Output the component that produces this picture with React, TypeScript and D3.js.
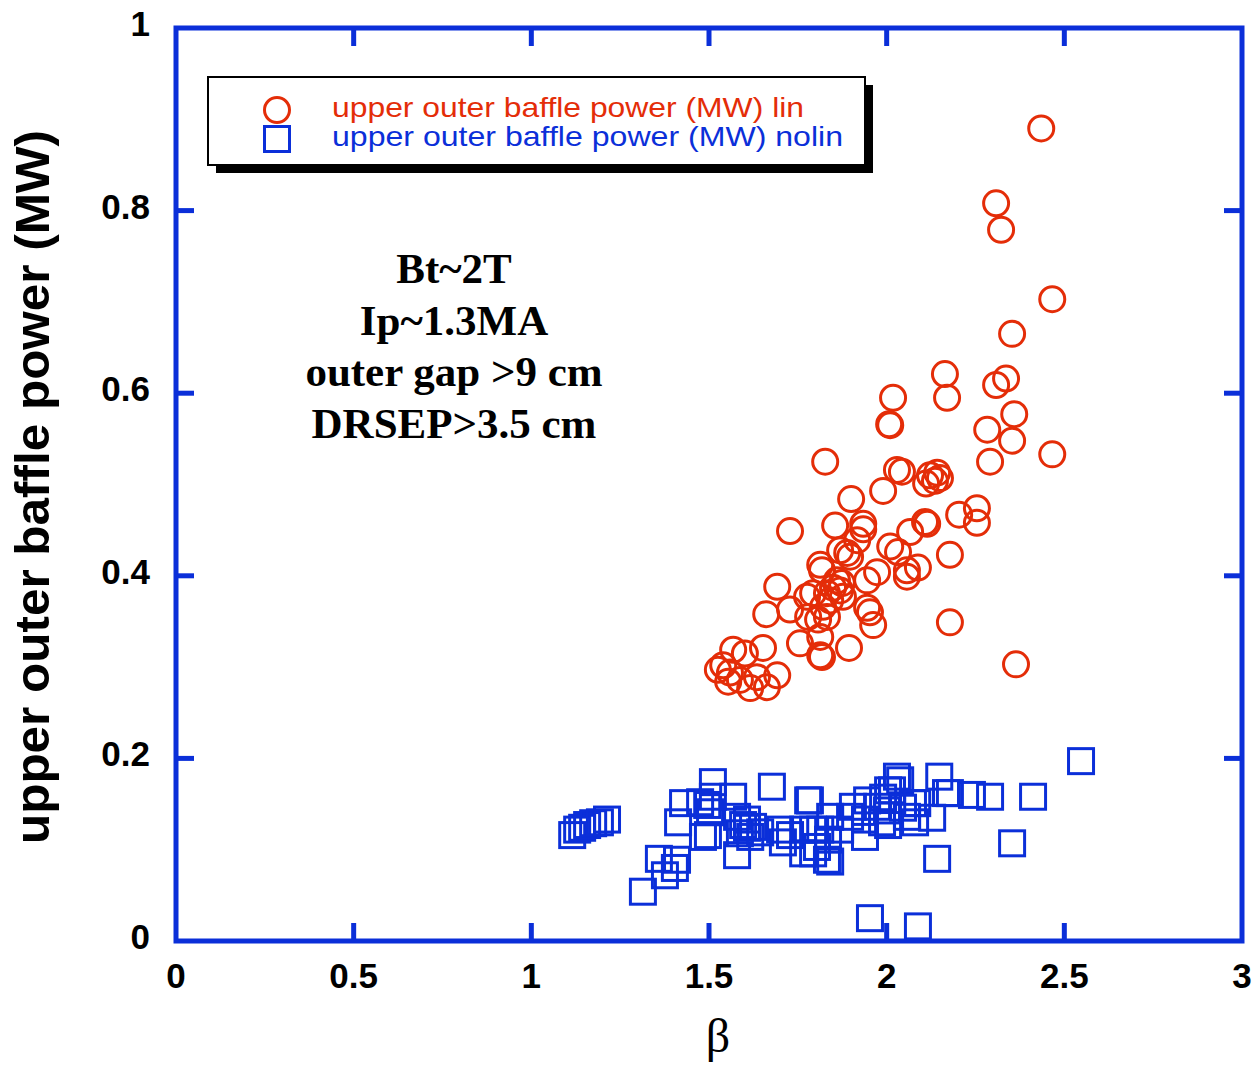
import React from "react";
import * as d3 from "d3";

const xTicks = [0, 0.5, 1, 1.5, 2, 2.5, 3];
const yTicks = [0, 0.2, 0.4, 0.6, 0.8, 1];
const xTickLabels = ["0", "0.5", "1", "1.5", "2", "2.5", "3"];
const yTickLabels = ["0", "0.2", "0.4", "0.6", "0.8", "1"];

const linBeta = [
  2.435, 2.308, 2.322, 2.466, 2.353, 2.164, 2.17, 2.308, 2.336, 2.018, 2.01, 2.007,
  2.359, 2.283, 2.353, 2.466, 2.291, 1.827, 2.029, 2.043, 2.122, 2.142, 2.136, 2.111,
  2.15, 1.99, 1.9, 1.728, 1.855, 1.934, 1.934, 1.917, 1.889, 1.869, 1.897, 1.813,
  1.818, 2.01, 2.032, 2.066, 2.108, 2.114, 2.204, 2.254, 2.254, 2.178, 1.973, 1.945,
  2.057, 2.088, 2.057, 1.692, 1.661, 1.728, 1.776, 1.793, 1.832, 1.849, 1.869, 1.877,
  1.841, 1.821, 1.86, 1.874, 1.779, 1.807, 1.832, 1.945, 1.953, 1.962, 2.178, 1.813,
  1.756, 1.818, 1.813, 1.894, 1.525, 1.568, 1.601, 1.652, 1.559, 1.587, 1.616, 1.554,
  1.663, 1.692, 1.635, 1.54, 2.364,
];
const linPower = [
  0.89, 0.808, 0.779, 0.703, 0.665, 0.621, 0.595, 0.609, 0.616, 0.595, 0.565, 0.566,
  0.577, 0.56, 0.548, 0.533, 0.525, 0.525, 0.516, 0.514, 0.51, 0.513, 0.504, 0.501,
  0.507, 0.493, 0.484, 0.449, 0.455, 0.457, 0.451, 0.439, 0.425, 0.428, 0.421, 0.412,
  0.406, 0.432, 0.426, 0.448, 0.459, 0.457, 0.467, 0.474, 0.458, 0.423, 0.404, 0.395,
  0.406, 0.409, 0.399, 0.388, 0.358, 0.363, 0.377, 0.381, 0.381, 0.387, 0.384, 0.377,
  0.373, 0.366, 0.395, 0.392, 0.355, 0.352, 0.355, 0.365, 0.36, 0.346, 0.349, 0.333,
  0.326, 0.311, 0.313, 0.321, 0.297, 0.319, 0.315, 0.321, 0.294, 0.286, 0.277, 0.284,
  0.278, 0.291, 0.289, 0.302, 0.303,
];

const nolinBeta = [
  1.115, 1.129, 1.143, 1.157, 1.174, 1.193, 1.213, 1.314, 1.359, 1.376, 1.404, 1.41,
  1.427, 1.413, 1.475, 1.495, 1.511, 1.511, 1.483, 1.497, 1.503, 1.568, 1.579, 1.677,
  1.607, 1.624, 1.596, 1.587, 1.644, 1.616, 1.607, 1.579, 1.728, 1.708, 1.7, 1.779,
  1.793, 1.804, 1.765, 1.841, 1.832, 2.547, 2.412, 2.291, 2.24, 2.353, 2.142, 1.953,
  2.088, 2.148, 2.167, 2.178, 2.128, 2.029, 2.038, 2.004, 2.015, 2.074, 2.086, 1.945,
  1.99, 1.973, 1.987, 2.004, 1.905, 1.939, 1.897, 1.784, 1.835, 1.813, 1.841, 1.793,
  1.765, 1.939, 2.046, 2.057, 2.08, 2.001, 1.869,
];
const nolinPower = [
  0.116, 0.122, 0.124, 0.127, 0.129, 0.13, 0.133, 0.054, 0.09, 0.072, 0.08, 0.089,
  0.151, 0.13, 0.152, 0.149, 0.174, 0.158, 0.114, 0.116, 0.141, 0.158, 0.094, 0.169,
  0.124, 0.125, 0.127, 0.118, 0.119, 0.114, 0.133, 0.136, 0.116, 0.108, 0.122, 0.154,
  0.122, 0.103, 0.096, 0.136, 0.089, 0.197, 0.158, 0.158, 0.16, 0.107, 0.09, 0.025,
  0.016, 0.18, 0.162, 0.162, 0.135, 0.18, 0.176, 0.165, 0.165, 0.151, 0.151, 0.154,
  0.157, 0.147, 0.13, 0.127, 0.147, 0.133, 0.136, 0.154, 0.111, 0.122, 0.087, 0.096,
  0.122, 0.114, 0.146, 0.136, 0.13, 0.143, 0.122,
];

const legendLabels = [
  "upper outer baffle power (MW) lin",
  "upper outer baffle power (MW) nolin",
];
const annotationLines = ["Bt~2T", "Ip~1.3MA", "outer gap >9 cm", "DRSEP>3.5 cm"];
const yAxisTitle = "upper outer baffle power (MW)";
const xAxisTitle = "β";

const RED = "#e42d08";
const BLUE = "#0b2fd9";

export default function App() {
  const left = 176, right = 1242, top = 28, bottom = 941;
  const x = d3.scaleLinear().domain([0, 3]).range([left, right]);
  const y = d3.scaleLinear().domain([0, 1]).range([bottom, top]);
  const tickLen = 18;
  const sans = "'Liberation Sans', Arial, Helvetica, sans-serif";
  const serif = "'Liberation Serif', 'Times New Roman', serif";
  const r = 12.5;
  const s = 25;

  return (
    <svg width={1258} height={1068} style={{ position: "absolute", left: 0, top: 0, background: "#fff" }}>
      <rect x={0} y={0} width={1258} height={1068} fill="#fff" />
      {/* nolin squares */}
      <g fill="none" stroke={BLUE} strokeWidth={3}>
        {nolinBeta.map((b, i) => (
          <rect key={i} x={x(b) - s / 2} y={y(nolinPower[i]) - s / 2} width={s} height={s} />
        ))}
      </g>
      {/* lin circles */}
      <g fill="none" stroke={RED} strokeWidth={3}>
        {linBeta.map((b, i) => (
          <circle key={i} cx={x(b)} cy={y(linPower[i])} r={r} />
        ))}
      </g>
      {/* frame */}
      <rect x={left} y={top} width={right - left} height={bottom - top} fill="none" stroke={BLUE} strokeWidth={5} />
      <g stroke={BLUE} strokeWidth={5}>
        {xTicks.slice(1, -1).map((t) => (
          <g key={"xt" + t}>
            <line x1={x(t)} x2={x(t)} y1={bottom} y2={bottom - tickLen} />
            <line x1={x(t)} x2={x(t)} y1={top} y2={top + tickLen} />
          </g>
        ))}
        {yTicks.slice(1, -1).map((t) => (
          <g key={"yt" + t}>
            <line x1={left} x2={left + tickLen} y1={y(t)} y2={y(t)} />
            <line x1={right} x2={right - tickLen} y1={y(t)} y2={y(t)} />
          </g>
        ))}
      </g>
      {/* tick labels */}
      <g fontFamily={sans} fontWeight="bold" fontSize={35} fill="#000">
        {xTicks.map((t, i) => (
          <text key={"xl" + t} x={x(t)} y={988} textAnchor="middle">{xTickLabels[i]}</text>
        ))}
        {yTicks.map((t, i) => (
          <text key={"yl" + t} x={150} y={y(t) + 8} textAnchor="end">{yTickLabels[i]}</text>
        ))}
      </g>
      {/* axis titles */}
      <text x={718} y={1052} textAnchor="middle" fontFamily={serif} fontSize={48} fill="#000">{xAxisTitle}</text>
      <text transform={`translate(49,487) rotate(-90)`} textAnchor="middle" fontFamily={sans} fontWeight="bold" fontSize={48} fill="#000" textLength={714} lengthAdjust="spacingAndGlyphs">{yAxisTitle}</text>
      {/* annotation */}
      <g fontFamily={serif} fontWeight="bold" fontSize={43} fill="#000" textAnchor="middle">
        {annotationLines.map((l, i) => (
          <text key={l} x={454} y={283 + i * 51.5}>{l}</text>
        ))}
      </g>
      {/* legend */}
      <rect x={216} y={85} width={657} height={88} fill="#000" />
      <rect x={208} y={77} width={657} height={88} fill="#fff" stroke="#000" strokeWidth={2} />
      <circle cx={277} cy={110} r={r} fill="none" stroke={RED} strokeWidth={3} />
      <rect x={277 - s / 2} y={139 - s / 2} width={s} height={s} fill="none" stroke={BLUE} strokeWidth={3} />
      <text x={332} y={117} fontFamily={sans} fontSize={28} fill={RED} textLength={472} lengthAdjust="spacingAndGlyphs">{legendLabels[0]}</text>
      <text x={332} y={146} fontFamily={sans} fontSize={28} fill={BLUE} textLength={511} lengthAdjust="spacingAndGlyphs">{legendLabels[1]}</text>
    </svg>
  );
}
